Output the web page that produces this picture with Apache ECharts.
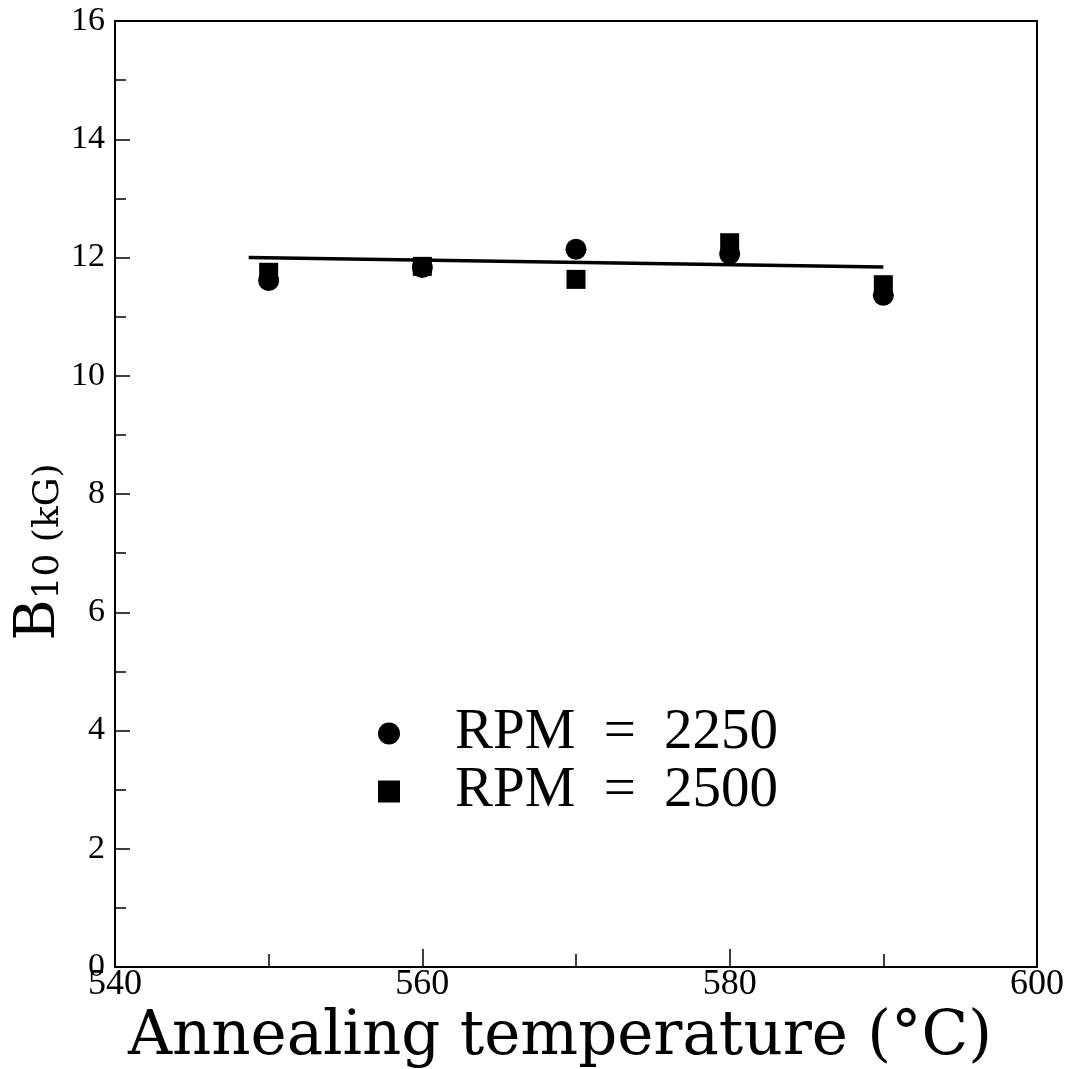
<!DOCTYPE html>
<html>
<head>
<meta charset="utf-8">
<script src="https://cdn.jsdelivr.net/npm/echarts@6/dist/echarts.min.js"></script>
<style>
  html, body { margin: 0; padding: 0; background: #fff; }
  #chart { width: 1070px; height: 1069px; }
</style>
</head>
<body>
<div id="chart"></div>
<script>
// annealing temperature (°C)
var temps = [550, 560, 570, 580, 590];
// B10 (kG) for each RPM
var rpm2250 = [11.61, 11.83, 12.14, 12.06, 11.36];
var rpm2500 = [11.75, 11.85, 11.63, 12.25, 11.54];
// fitted line, end points
var fitX = [548.7, 590];
var fitY = [12.0, 11.84];
// axis ticks
var xTicks = [540, 560, 580, 600];
var yTicks = [0, 2, 4, 6, 8, 10, 12, 14, 16];

var seriesNames = ['RPM = 2250', 'RPM = 2500'];

function pairs(xs, ys) {
  return xs.map(function (x, i) { return [x, ys[i]]; });
}

var serif = 'Liberation Serif';
var chart = echarts.init(document.getElementById('chart'));

chart.setOption({
  backgroundColor: '#fff',
  animation: false,
  grid: {
    left: 115,
    right: 33,
    top: 21,
    bottom: 102,
    outerBoundsMode: 'none',
    containLabel: false,
    show: true,
    borderColor: '#000',
    borderWidth: 2
  },
  legend: {
    orient: 'vertical',
    left: 373,
    top: 700,
    itemWidth: 22,
    itemHeight: 22,
    itemGap: 1,
    selectedMode: false,
    formatter: function (name) {
      var p = name.split(' = ');
      return '{t|' + p[0] + ' }{e|=}{t| ' + p[1] + '}';
    },
    textStyle: {
      color: '#000',
      padding: [0, 0, 0, 50],
      rich: {
        t: { fontFamily: serif, fontSize: 57, lineHeight: 57, color: '#000' },
        e: { fontFamily: serif, fontSize: 57, lineHeight: 57, color: '#000', padding: [0, 14, 0, 14] }
      }
    },
    data: [
      { name: seriesNames[0], icon: 'circle' },
      { name: seriesNames[1], icon: 'rect' }
    ]
  },
  xAxis: {
    type: 'value',
    min: xTicks[0],
    max: xTicks[xTicks.length - 1],
    interval: 20,
    name: 'Annealing temperature (°C)',
    nameLocation: 'middle',
    nameGap: 32,
    nameTextStyle: {
      fontFamily: 'DejaVu Serif',
      fontSize: 61,
      color: '#000',
      padding: [0, 32, 0, 0]
    },
    axisLine: { lineStyle: { color: '#000', width: 2 } },
    axisTick: { inside: true, length: 18, lineStyle: { color: '#000', width: 1.5 } },
    minorTick: { show: true, splitNumber: 2, length: 13, lineStyle: { color: '#000', width: 1.5 } },
    splitLine: { show: false },
    axisLabel: {
      margin: 0,
      fontFamily: serif,
      fontSize: 36,
      color: '#000'
    }
  },
  yAxis: {
    type: 'value',
    min: yTicks[0],
    max: yTicks[yTicks.length - 1],
    interval: 2,
    axisLine: { show: true, lineStyle: { color: '#000', width: 2 } },
    axisTick: { inside: true, length: 15, lineStyle: { color: '#000', width: 1.5 } },
    minorTick: { show: true, splitNumber: 2, length: 11, lineStyle: { color: '#000', width: 1.5 } },
    splitLine: { show: false },
    axisLabel: {
      margin: 10,
      fontFamily: serif,
      fontSize: 34,
      color: '#000'
    }
  },
  graphic: [{
    type: 'text',
    x: 39,
    y: 552,
    rotation: Math.PI / 2,
    style: {
      text: '{b|B}{s|10 (kG)}',
      align: 'center',
      verticalAlign: 'middle',
      fill: '#000',
      rich: {
        b: { fontFamily: 'DejaVu Serif', fontSize: 56, lineHeight: 56, verticalAlign: 'top' },
        s: { fontFamily: 'DejaVu Serif', fontSize: 36, lineHeight: 36, verticalAlign: 'bottom', padding: [28, 0, 0, 0] }
      }
    }
  }],
  series: [
    {
      name: 'fit',
      type: 'line',
      data: pairs(fitX, fitY),
      showSymbol: false,
      symbol: 'none',
      lineStyle: { color: '#000', width: 3.5 },
      z: 2
    },
    {
      name: seriesNames[0],
      type: 'scatter',
      symbol: 'circle',
      symbolSize: 21,
      itemStyle: { color: '#000', opacity: 1 },
      data: pairs(temps, rpm2250),
      z: 3
    },
    {
      name: seriesNames[1],
      type: 'scatter',
      symbol: 'rect',
      symbolSize: 19,
      itemStyle: { color: '#000', opacity: 1 },
      data: pairs(temps, rpm2500),
      z: 4
    }
  ]
});
</script>
</body>
</html>
